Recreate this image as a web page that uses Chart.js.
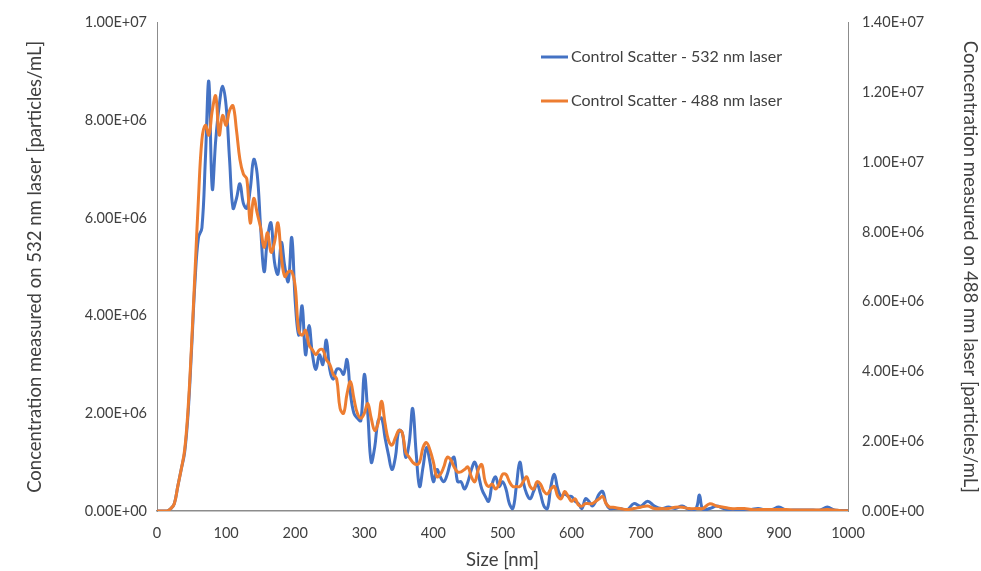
<!DOCTYPE html>
<html>
<head>
<meta charset="utf-8">
<script src="https://cdn.jsdelivr.net/npm/chart.js@4.4.0/dist/chart.umd.min.js"></script>
<style>
  html, body { margin: 0; padding: 0; background: #fff; }
  #wrap { width: 981px; height: 571px; }
</style>
</head>
<body>
<div id="wrap"><canvas id="chart"></canvas></div>
<script>
// size bins [nm]
const sizes = [
  0, 5, 10, 15, 20, 25, 30, 35, 40, 45, 50, 55, 60, 65, 70, 75, 80, 85, 90, 95,
  100, 105, 110, 115, 120, 125, 130, 135, 140, 145, 150, 155, 160, 165, 170, 175, 180, 185, 190, 195,
  200, 205, 210, 215, 220, 225, 230, 235, 240, 245, 250, 255, 260, 265, 270, 275, 280, 285, 290, 295,
  300, 305, 310, 315, 320, 325, 330, 335, 340, 345, 350, 355, 360, 365, 370, 375, 380, 385, 390, 395,
  400, 405, 410, 415, 420, 425, 430, 435, 440, 445, 450, 455, 460, 465, 470, 475, 480, 485, 490, 495,
  500, 505, 510, 515, 520, 525, 530, 535, 540, 545, 550, 555, 560, 565, 570, 575, 580, 585, 590, 595,
  600, 605, 610, 615, 620, 625, 630, 635, 640, 645, 650, 655, 660, 670, 680, 690, 700, 710, 720, 730,
  740, 750, 760, 770, 780, 785, 790, 800, 810, 820, 830, 840, 850, 860, 870, 880, 890, 900, 910, 920,
  930, 940, 950, 960, 970, 980, 990, 1000
];

// 532 nm laser, millions of particles/mL (left axis)
const conc532 = [
  0, 0, 0, 0, 0.05, 0.15, 0.5, 0.85, 1.2, 2.0, 3.3, 4.7, 5.6, 5.8, 7.2, 8.8, 6.6, 7.6, 8.3, 8.7,
  8.3, 7.2, 6.2, 6.4, 6.7, 6.3, 6.2, 6.6, 7.2, 6.9, 5.8, 4.9, 5.6, 5.9, 5.1, 4.85, 5.5, 5.0, 4.7, 5.6,
  4.3, 3.6, 4.2, 3.2, 3.8, 3.2, 2.9, 3.2, 3.0, 3.5, 2.9, 2.7, 2.9, 2.9, 2.8, 3.1, 2.4, 2.0, 1.9, 1.85,
  2.8, 2.0, 1.0, 1.3, 1.85, 1.9, 1.5, 1.15, 0.85, 1.1, 1.65, 1.6, 1.1, 1.4, 2.1, 1.2, 0.5, 0.9, 1.3, 1.0,
  0.6, 0.85, 0.7, 0.6, 0.75, 1.0, 1.1, 0.6, 0.6, 0.45, 0.6, 0.85, 1.0, 0.75, 0.45, 0.3, 0.2, 0.55, 0.7, 0.5,
  0.6, 0.45, 0.15, 0.05, 0.5, 1.0, 0.6, 0.35, 0.25, 0.4, 0.55, 0.35, 0.1, 0.05, 0.5, 0.75, 0.45, 0.3, 0.35, 0.3,
  0.3, 0.2, 0.15, 0.05, 0.25, 0.2, 0.1, 0.2, 0.35, 0.4, 0.15, 0.05, 0.05, 0.05, 0.02, 0.15, 0.1, 0.2, 0.1, 0.05,
  0.08, 0.05, 0.1, 0.03, 0.05, 0.33, 0.03, 0.05, 0.1, 0.05, 0.02, 0.03, 0.02, 0.03, 0.05, 0.02, 0.03, 0.08, 0.02, 0.02,
  0.02, 0.02, 0.02, 0.02, 0.08, 0.02, 0.01, 0.01
];

// 488 nm laser, millions of particles/mL (right axis)
const conc488 = [
  0, 0, 0, 0, 0.07, 0.21, 0.7, 1.19, 1.75, 2.94, 4.76, 6.86, 8.96, 10.64, 11.06, 10.78, 11.48, 11.9, 10.78, 11.34,
  11.06, 11.48, 11.62, 10.92, 10.08, 9.66, 9.52, 8.26, 8.96, 8.54, 8.12, 7.56, 7.98, 7.42, 7.7, 8.26, 7.28, 6.72, 6.86, 6.86,
  6.44, 5.18, 5.04, 5.18, 4.76, 4.62, 4.48, 4.62, 4.62, 4.34, 4.2, 3.92, 3.78, 2.94, 2.8, 3.36, 3.71, 3.22, 2.8, 2.66,
  2.8, 3.08, 2.66, 2.31, 2.52, 3.15, 2.52, 2.03, 1.89, 2.1, 2.31, 2.24, 1.68, 1.54, 1.4, 1.33, 1.4, 1.82, 1.96, 1.75,
  1.4, 0.98, 1.05, 1.26, 1.54, 1.47, 1.26, 1.12, 1.12, 1.19, 1.26, 0.98, 0.84, 1.19, 1.33, 0.84, 0.7, 0.77, 0.63, 0.77,
  1.05, 1.05, 0.84, 0.7, 0.7, 0.7, 0.84, 0.98, 0.7, 0.63, 0.84, 0.77, 0.56, 0.49, 0.63, 0.7, 0.42, 0.35, 0.56, 0.42,
  0.28, 0.35, 0.17, 0.14, 0.21, 0.21, 0.21, 0.28, 0.35, 0.42, 0.21, 0.11, 0.11, 0.07, 0.04, 0.07, 0.11, 0.14, 0.07, 0.07,
  0.07, 0.11, 0.11, 0.07, 0.07, 0.07, 0.07, 0.21, 0.14, 0.11, 0.07, 0.07, 0.07, 0.04, 0.04, 0.04, 0.04, 0.04, 0.04, 0.03,
  0.03, 0.03, 0.03, 0.03, 0.04, 0.03, 0.01, 0.01
];

const xTicks = [0, 100, 200, 300, 400, 500, 600, 700, 800, 900, 1000];

const label532 = "Control Scatter - 532 nm laser";
const label488 = "Control Scatter - 488 nm laser";

const FONT = "Lato, 'Noto Sans', sans-serif";
const TEXT = "#404040";
const AXIS = "#8c8c8c";

function sci(v) {
  if (v === 0) return "0.00E+00";
  const exp = Math.floor(Math.log10(Math.abs(v)));
  const mant = v / Math.pow(10, exp);
  return mant.toFixed(2) + "E+" + String(exp).padStart(2, "0");
}

function points(vals) {
  return sizes.map((s, i) => ({ x: s, y: vals[i] * 1e6 }));
}

// legend drawn inside the plot, like the spreadsheet original
const innerLegend = {
  id: "innerLegend",
  afterDraw(c) {
    const ctx = c.ctx;
    const rows = [c.data.datasets[0], c.data.datasets[1]];
    const ys = [57, 101];
    ctx.save();
    ctx.font = "16px " + FONT;
    ctx.textBaseline = "middle";
    rows.forEach((ds, i) => {
      ctx.strokeStyle = ds.borderColor;
      ctx.lineWidth = 3;
      ctx.beginPath();
      ctx.moveTo(541, ys[i]);
      ctx.lineTo(568, ys[i]);
      ctx.stroke();
      ctx.fillStyle = TEXT;
      ctx.fillText(ds.label, 571, ys[i]);
    });
    ctx.restore();
  }
};

const ctx = document.getElementById("chart").getContext("2d");
const chart = new Chart(ctx, {
  type: "line",
  data: {
    datasets: [
      {
        label: label532,
        data: points(conc532),
        yAxisID: "y",
        borderColor: "#4472C4",
        borderWidth: 3,
        pointRadius: 0,
        tension: 0.4,
        order: 2
      },
      {
        label: label488,
        data: points(conc488),
        yAxisID: "y2",
        borderColor: "#ED7D31",
        borderWidth: 3,
        pointRadius: 0,
        tension: 0.4,
        order: 1
      }
    ]
  },
  options: {
    responsive: true,
    maintainAspectRatio: false,
    animation: false,
    layout: { padding: { top: 20, left: 0, right: 0, bottom: 0 } },
    plugins: {
      legend: { display: false },
      tooltip: { enabled: false }
    },
    scales: {
      x: {
        type: "linear",
        min: 0,
        max: 1000,
        afterBuildTicks: s => { s.ticks = xTicks.map(v => ({ value: v })); },
        afterFit: s => { s.height = 60; },
        grid: { display: false, drawTicks: false },
        border: { display: true, color: AXIS, width: 1.5 },
        ticks: { color: TEXT, font: { family: FONT, size: 14.5 }, padding: 14, maxRotation: 0, callback: v => String(v) },
        title: { display: true, text: "Size [nm]", color: TEXT, font: { family: FONT, size: 18.5 }, padding: { top: 0, bottom: 0 } }
      },
      y: {
        position: "left",
        min: 0,
        max: 1e7,
        afterFit: s => { s.width = 157; },
        grid: { display: false, drawTicks: false },
        border: { display: true, color: AXIS, width: 1 },
        ticks: { stepSize: 2e6, color: TEXT, font: { family: FONT, size: 14.5 }, padding: 10, callback: v => sci(v) },
        title: { display: true, text: "Concentration measured on 532 nm laser [particles/mL]", color: TEXT, font: { family: FONT, size: 18.5 }, padding: { top: 24, bottom: 0 } }
      },
      y2: {
        position: "right",
        min: 0,
        max: 1.4e7,
        afterFit: s => { s.width = 133; },
        grid: { display: false, drawTicks: false },
        border: { display: true, color: AXIS, width: 1 },
        ticks: { stepSize: 2e6, color: TEXT, font: { family: FONT, size: 14.5 }, padding: 14, callback: v => sci(v) },
        title: { display: true, text: "Concentration measured on 488 nm laser [particles/mL]", color: TEXT, font: { family: FONT, size: 18.5 }, padding: { top: 0, bottom: 0 } }
      }
    }
  },
  plugins: [innerLegend]
});
</script>
</body>
</html>
